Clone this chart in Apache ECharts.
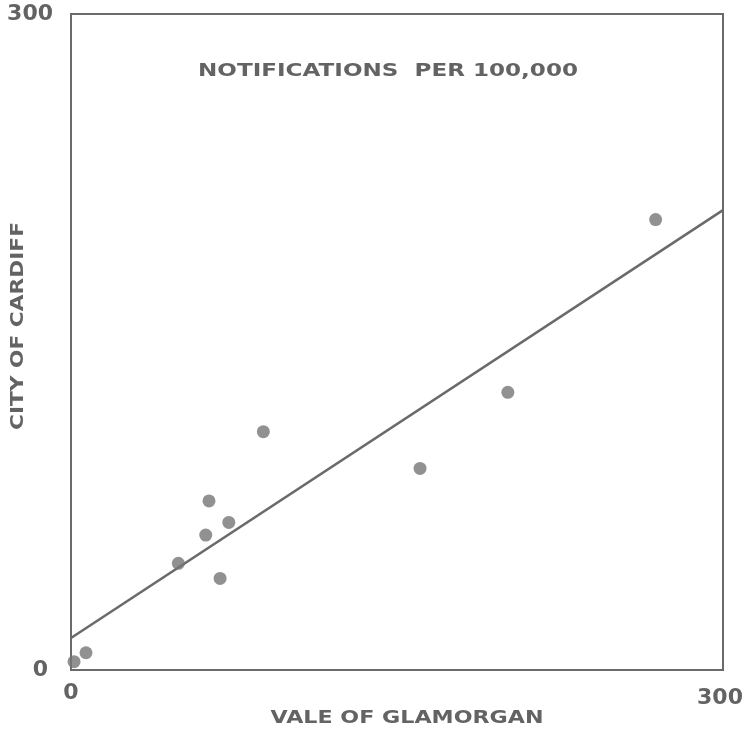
<!DOCTYPE html>
<html>
<head>
<meta charset="utf-8">
<script src="https://cdn.jsdelivr.net/npm/echarts@6/dist/echarts.min.js"></script>
<style>
  html, body { margin: 0; padding: 0; background: #ffffff; }
  #chart { width: 755px; height: 732px; }
</style>
</head>
<body>
<div id="chart"></div>
<script>
// Notifications per 100,000: Vale of Glamorgan (x) against City of Cardiff (y)
const valeOfGlamorgan = [1.4, 6.9, 49.4, 62, 63.5, 72.6, 68.6, 88.5, 160.6, 201, 269];
const cityOfCardiff   = [3.8, 7.9, 48.8, 61.7, 77.3, 67.5, 41.9, 109, 92.2, 127, 206];

// Fitted regression line, given by its two ends
const fitX = [0, 300];
const fitY = [14.6, 210.3];

const axisMin = 0;
const axisMax = 300;

const titleText = 'NOTIFICATIONS  PER 100,000';
const xName = 'VALE OF GLAMORGAN';
const yName = 'CITY OF CARDIFF';

const ink = '#636363';
const letterFont = 'bold 18px "DejaVu Sans"';

// horizontal stretch needed to bring a text to a given width
function stretchFor(text, font, targetWidth) {
  const ctx = document.createElement('canvas').getContext('2d');
  ctx.font = font;
  return targetWidth / ctx.measureText(text).width;
}

function stretchedText(text, x, y, width, rotation) {
  return {
    type: 'text',
    x: x,
    y: y,
    rotation: rotation || 0,
    scaleX: stretchFor(text, letterFont, width),
    silent: true,
    style: {
      text: text,
      font: letterFont,
      fill: ink,
      align: 'center',
      verticalAlign: 'middle'
    }
  };
}

const chart = echarts.init(document.getElementById('chart'), null, { renderer: 'canvas' });

const tickFont = {
  fontFamily: 'DejaVu Sans',
  fontWeight: 'bold',
  fontSize: 22,
  color: ink
};

chart.setOption({
  backgroundColor: '#ffffff',
  animation: false,
  grid: {
    left: 71,
    top: 14,
    width: 652,
    height: 656,
    show: true,
    borderColor: '#6a6a6a',
    borderWidth: 2,
    backgroundColor: 'transparent'
  },
  xAxis: {
    type: 'value',
    min: axisMin,
    max: axisMax,
    interval: axisMax - axisMin,
    axisLine: { show: false },
    axisTick: { show: false },
    splitLine: { show: false },
    axisLabel: Object.assign({}, tickFont, {
      margin: 12,
      formatter: v => (v === axisMax ? '{hi|' + v + '}' : '{lo|' + v + '}'),
      rich: {
        lo: Object.assign({}, tickFont),
        hi: Object.assign({}, tickFont, { padding: [5, 6, 0, 0] })
      }
    })
  },
  yAxis: {
    type: 'value',
    min: axisMin,
    max: axisMax,
    interval: axisMax - axisMin,
    axisLine: { show: false },
    axisTick: { show: false },
    splitLine: { show: false },
    axisLabel: Object.assign({}, tickFont, {
      margin: 18,
      formatter: v => (v === axisMin ? '{lo|' + v + '}' : '{hi|' + v + '}'),
      rich: {
        lo: Object.assign({}, tickFont, { padding: [0, 5, 0, 0] }),
        hi: Object.assign({}, tickFont)
      }
    })
  },
  series: [
    {
      type: 'line',
      data: fitX.map((x, i) => [x, fitY[i]]),
      showSymbol: false,
      symbol: 'none',
      lineStyle: { color: '#6a6a6a', width: 2.5 },
      silent: true,
      z: 2
    },
    {
      type: 'scatter',
      data: valeOfGlamorgan.map((x, i) => [x, cityOfCardiff[i]]),
      symbol: 'circle',
      symbolSize: 13,
      itemStyle: { color: '#767676' },
      silent: true,
      z: 3
    }
  ],
  graphic: [
    stretchedText(titleText, 388, 71, 380, 0),
    stretchedText(xName, 407, 718, 273, 0),
    stretchedText(yName, 18, 326, 208, Math.PI / 2)
  ]
});
</script>
</body>
</html>
